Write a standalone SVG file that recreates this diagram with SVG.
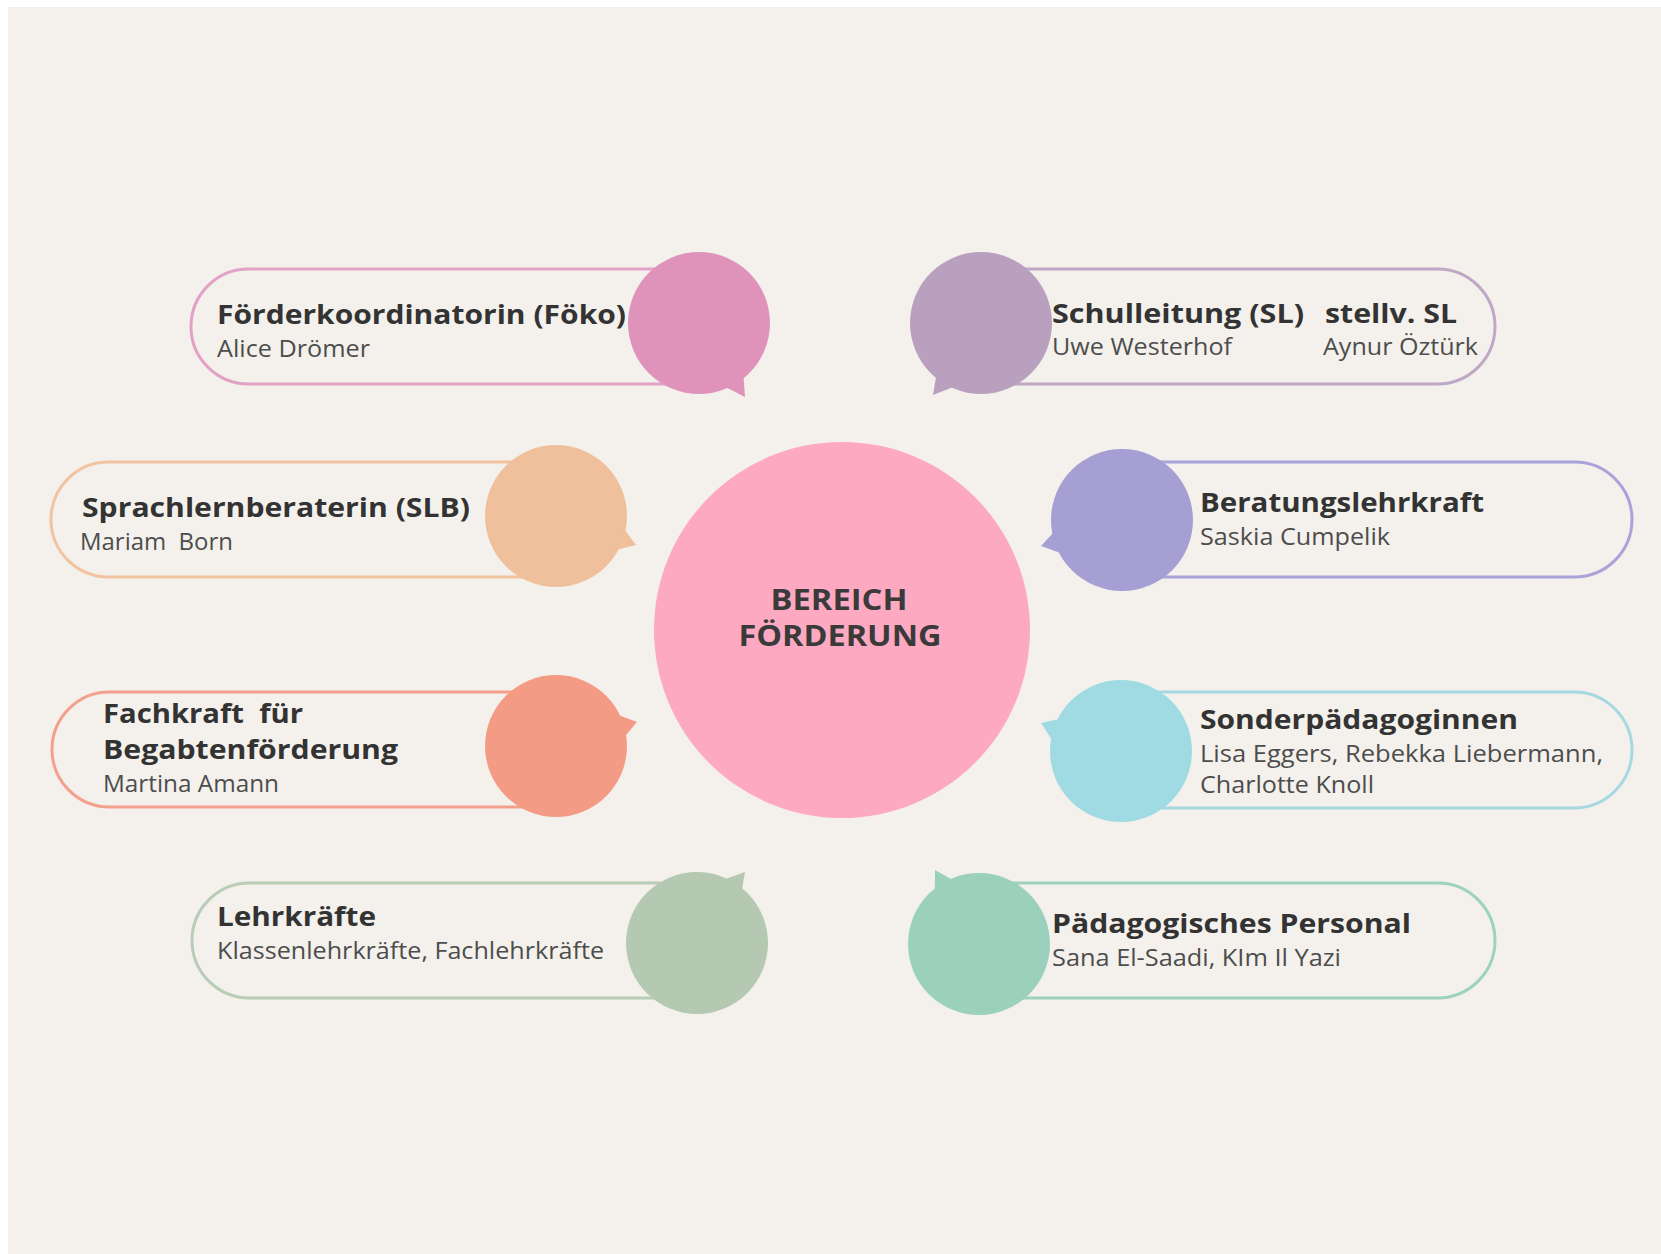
<svg xmlns="http://www.w3.org/2000/svg" width="1661" height="1254" viewBox="0 0 1661 1254">
<style>
.pill{fill:#f4f1ec;stroke-width:3}
.t{font-family:"Open Sans","Liberation Sans",sans-serif;font-weight:700;font-size:27px;fill:#333333}
.s{font-family:"Open Sans","Liberation Sans",sans-serif;font-weight:400;font-size:23px;fill:#4d4d4d}
.c{font-family:"Open Sans","Liberation Sans",sans-serif;font-weight:700;font-size:29px;fill:#3a3a3a;text-anchor:middle}
</style>
<rect x="0" y="0" width="1661" height="1254" fill="#ffffff"/>
<rect x="8" y="7" width="1653" height="1247" fill="#f4f1ec"/>

<g id="center">
<circle cx="842" cy="630" r="188" fill="#fea9c2"/>
<text class="c" x="839" y="610" textLength="137" lengthAdjust="spacingAndGlyphs">BEREICH</text>
<text class="c" x="840" y="646" textLength="203" lengthAdjust="spacingAndGlyphs">FÖRDERUNG</text>
</g>

<g id="foerderkoordinatorin">
<path class="pill" stroke="#e2a1c5" d="M699,269 H248.5 A57.5,57.5 0 0 0 248.5,384 H699"/>
<circle cx="699" cy="323" r="71" fill="#df93bb"/>
<path d="M743.2,372 L745,397 L721.6,385 Z" fill="#df93bb"/>
<text class="t" x="217" y="324" textLength="409" lengthAdjust="spacingAndGlyphs">Förderkoordinatorin (Föko)</text>
<text class="s" x="217" y="357" textLength="153" lengthAdjust="spacingAndGlyphs">Alice Drömer</text>
</g>

<g id="schulleitung">
<path class="pill" stroke="#bea8c5" d="M981,269 H1437.5 A57.5,57.5 0 0 1 1437.5,384 H981"/>
<circle cx="981" cy="323" r="71" fill="#b9a0bf"/>
<path d="M936.8,372 L933,395 L958.4,385 Z" fill="#b9a0bf"/>
<text class="t" x="1052" y="323" textLength="252" lengthAdjust="spacingAndGlyphs">Schulleitung (SL)</text>
<text class="t" x="1325" y="323" textLength="132" lengthAdjust="spacingAndGlyphs">stellv. SL</text>
<text class="s" x="1052" y="355" textLength="180" lengthAdjust="spacingAndGlyphs">Uwe Westerhof</text>
<text class="s" x="1323" y="355" textLength="155" lengthAdjust="spacingAndGlyphs">Aynur Öztürk</text>
</g>

<g id="sprachlernberaterin">
<path class="pill" stroke="#f1c3a1" d="M556,462 H108.5 A57.5,57.5 0 0 0 108.5,577 H556"/>
<circle cx="556" cy="516" r="71" fill="#f0bf9b"/>
<path d="M621.4,525.2 L636,545 L612,551 Z" fill="#f0bf9b"/>
<text class="t" x="82" y="517" textLength="388" lengthAdjust="spacingAndGlyphs">Sprachlernberaterin (SLB)</text>
<text class="s" x="80" y="550" textLength="153" lengthAdjust="spacingAndGlyphs" xml:space="preserve">Mariam  Born</text>
</g>

<g id="beratungslehrkraft">
<path class="pill" stroke="#aaa3d9" d="M1122,462 H1574.5 A57.5,57.5 0 0 1 1574.5,577 H1122"/>
<circle cx="1122" cy="520" r="71" fill="#a69fd4"/>
<path d="M1056.6,529.2 L1041,546 L1066,555 Z" fill="#a69fd4"/>
<text class="t" x="1200" y="512" textLength="284" lengthAdjust="spacingAndGlyphs">Beratungslehrkraft</text>
<text class="s" x="1200" y="545" textLength="190" lengthAdjust="spacingAndGlyphs">Saskia Cumpelik</text>
</g>

<g id="begabtenfoerderung">
<path class="pill" stroke="#f3a08d" d="M556,692 H109.5 A57.5,57.5 0 0 0 109.5,807 H556"/>
<circle cx="556" cy="746" r="71" fill="#f49b85"/>
<path d="M613.2,713 L637,722 L621.7,740.2 Z" fill="#f49b85"/>
<text class="t" x="103" y="723" textLength="200" lengthAdjust="spacingAndGlyphs" xml:space="preserve">Fachkraft  für</text>
<text class="t" x="103" y="759" textLength="295" lengthAdjust="spacingAndGlyphs">Begabtenförderung</text>
<text class="s" x="103" y="792" textLength="176" lengthAdjust="spacingAndGlyphs">Martina Amann</text>
</g>

<g id="sonderpaedagoginnen">
<path class="pill" stroke="#a6d8e1" d="M1121,692 H1574 A58,58 0 0 1 1574,808 H1121"/>
<circle cx="1121" cy="751" r="71" fill="#a0dbe4"/>
<path d="M1055.3,745.2 L1041,723 L1063.8,718 Z" fill="#a0dbe4"/>
<text class="t" x="1200" y="729" textLength="318" lengthAdjust="spacingAndGlyphs">Sonderpädagoginnen</text>
<text class="s" x="1200" y="762" textLength="403" lengthAdjust="spacingAndGlyphs">Lisa Eggers, Rebekka Liebermann,</text>
<text class="s" x="1200" y="793" textLength="174" lengthAdjust="spacingAndGlyphs">Charlotte Knoll</text>
</g>

<g id="lehrkraefte">
<path class="pill" stroke="#b9ccb6" d="M697,883 H249.5 A57.5,57.5 0 0 0 249.5,998 H697"/>
<circle cx="697" cy="943" r="71" fill="#b5c9b2"/>
<path d="M741.2,894 L745,872 L719.6,881 Z" fill="#b5c9b2"/>
<text class="t" x="217" y="926" textLength="159" lengthAdjust="spacingAndGlyphs">Lehrkräfte</text>
<text class="s" x="217" y="959" textLength="387" lengthAdjust="spacingAndGlyphs">Klassenlehrkräfte, Fachlehrkräfte</text>
</g>

<g id="paedagogisches-personal">
<path class="pill" stroke="#9dd3be" d="M979,883 H1437.5 A57.5,57.5 0 0 1 1437.5,998 H979"/>
<circle cx="979" cy="944" r="71" fill="#9bd1bc"/>
<path d="M934.8,895 L935,870 L956.4,882 Z" fill="#9bd1bc"/>
<text class="t" x="1052" y="933" textLength="359" lengthAdjust="spacingAndGlyphs">Pädagogisches Personal</text>
<text class="s" x="1052" y="966" textLength="289" lengthAdjust="spacingAndGlyphs">Sana El-Saadi, KIm Il Yazi</text>
</g>

<g id="connectors"></g>
</svg>
